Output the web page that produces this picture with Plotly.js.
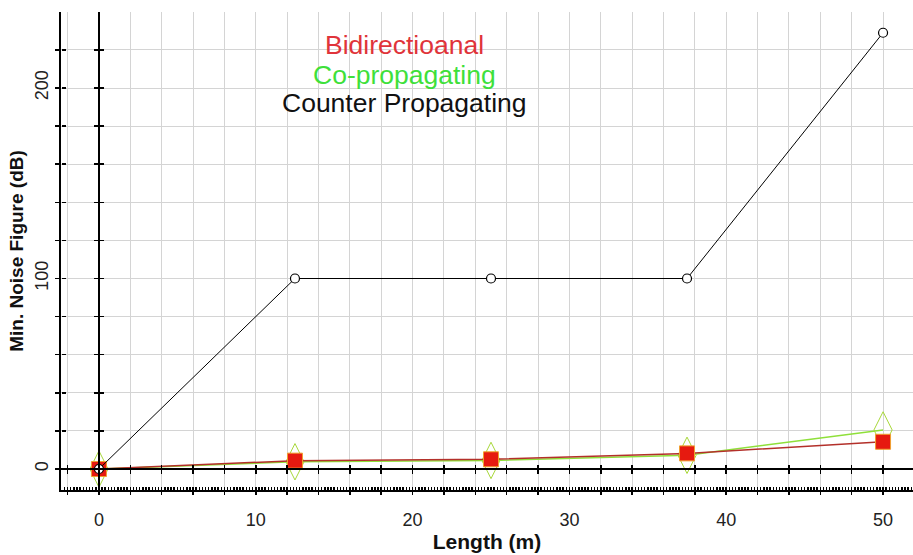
<!DOCTYPE html>
<html>
<head>
<meta charset="utf-8">
<script src="https://cdn.plot.ly/plotly-3.0.1.min.js"></script>
<style>html,body{margin:0;padding:0;background:#fff;}#chart{width:913px;height:555px;}</style>
</head>
<body>
<div id="chart"></div>
<script>
// ---- data ----
var lengths = [0, 12.5, 25, 37.5, 50];
var counterProp = [0, 100, 100, 100, 229];
var coProp = [0, 3.8, 4.5, 7.2, 20.5];
var bidir = [0, 4.4, 5.1, 8.2, 14.3];
var seriesNames = ["Bidirectioanal", "Co-propagating", "Counter Propagating"];
var xTitle = "Length (m)";
var yTitle = "Min. Noise Figure (dB)";

// ---- styling ----
var xRange = [-2.42, 51.91];
var yRange = [-11.02, 239.9];
var gridCol = "#d4d4d4";
var fontFam = "Liberation Sans, Arial, sans-serif";
var xZeroPos = (0 - yRange[0]) / (yRange[1] - yRange[0]);
var yZeroPos = (0 - xRange[0]) / (xRange[1] - xRange[0]);

var traces = [
  {x: lengths, y: coProp, mode: "lines+markers", name: seriesNames[1],
   line: {color: "#8fe03a", width: 1.5},
   marker: {symbol: "diamond-tall-open", size: 26, color: "#a8d83a", line: {width: 1}}},
  {x: lengths, y: bidir, mode: "lines+markers", name: seriesNames[0],
   line: {color: "#b3302a", width: 1.5},
   marker: {symbol: "square", size: 15, color: "#e61a10", line: {color: "#f0a030", width: 1}}},
  {x: lengths, y: counterProp, mode: "lines+markers", name: seriesNames[2],
   line: {color: "#000000", width: 1},
   marker: {symbol: "circle", size: 9, color: "#ffffff", line: {color: "#000000", width: 1.2}}},
  // helper empty traces so the overlay axes are drawn
  {x: [], y: [], xaxis: "x2", yaxis: "y", hoverinfo: "skip", showlegend: false},
  {x: [], y: [], xaxis: "x3", yaxis: "y", hoverinfo: "skip", showlegend: false},
  {x: [], y: [], xaxis: "x4", yaxis: "y", hoverinfo: "skip", showlegend: false},
  {x: [], y: [], xaxis: "x", yaxis: "y2", hoverinfo: "skip", showlegend: false},
  {x: [], y: [], xaxis: "x", yaxis: "y3", hoverinfo: "skip", showlegend: false},
  {x: [], y: [], xaxis: "x", yaxis: "y4", hoverinfo: "skip", showlegend: false}
];

function overlayX(pos, ticks, dtick, len, showline) {
  return {overlaying: "x", anchor: "free", position: pos, range: xRange, showgrid: false,
    zeroline: false, showline: showline, linecolor: "#000", linewidth: 2, ticks: ticks,
    ticklen: len, tickwidth: 1.5, tickcolor: "#000", tick0: 0, dtick: dtick, showticklabels: false};
}
function overlayY(pos, ticks, dtick, len, showline) {
  return {overlaying: "y", anchor: "free", position: pos, range: yRange, showgrid: false,
    zeroline: false, showline: showline, linecolor: "#000", linewidth: 2, ticks: ticks,
    ticklen: len, tickwidth: 1.5, tickcolor: "#000", tick0: 0, dtick: dtick, showticklabels: false};
}

var annotations = [];
var legendColors = ["#e0343a", "#3ee03a", "#111111"];
var legendY = [45, 75, 103];
for (var i = 0; i < seriesNames.length; i++) {
  annotations.push({xref: "paper", yref: "paper", x: (404 - 61) / 852, y: (490 - legendY[i]) / 478,
    xanchor: "center", yanchor: "middle", showarrow: false, text: seriesNames[i],
    font: {family: fontFam, size: 26.5, color: legendColors[i]}});
}

var layout = {
  width: 913, height: 555,
  margin: {l: 61, r: 0, t: 12, b: 65, pad: 0},
  paper_bgcolor: "#fff", plot_bgcolor: "#fff",
  showlegend: false,
  font: {family: fontFam, color: "#222"},
  xaxis: {range: xRange, dtick: 10, tick0: 0, showgrid: true, gridcolor: gridCol, gridwidth: 1,
    zeroline: false, showline: true, linecolor: "#000", linewidth: 2,
    ticks: "outside", ticklen: 3, tickcolor: "#000", tickwidth: 1.5, ticklabelstandoff: 9,
    tickfont: {size: 18, color: "#222"},
    minor: {dtick: 2, tick0: 0, showgrid: true, gridcolor: gridCol, gridwidth: 1, ticks: "outside", ticklen: 3, tickcolor: "#000"},
    title: {text: xTitle, font: {size: 21, color: "#111", weight: "bold"}, standoff: 6}},
  yaxis: {range: yRange, dtick: 100, tick0: 0, showgrid: true, gridcolor: gridCol, gridwidth: 1,
    zeroline: false, showline: true, linecolor: "#000", linewidth: 2,
    ticks: "outside", ticklen: 4, tickcolor: "#000", tickwidth: 1.5, tickangle: -90,
    tickfont: {size: 18, color: "#222"},
    minor: {dtick: 20, tick0: 0, showgrid: true, gridcolor: gridCol, gridwidth: 1, ticks: "outside", ticklen: 4, tickcolor: "#000"},
    title: {text: yTitle, font: {size: 19, color: "#111", weight: "bold"}, standoff: 3}},
  xaxis2: overlayX(xZeroPos, "outside", 2, 4, true),
  xaxis3: overlayX(xZeroPos, "inside", 2, 4, false),
  xaxis4: overlayX(0, "inside", 0.2, 3, false),
  yaxis2: overlayY(yZeroPos, "outside", 20, 4, true),
  yaxis3: overlayY(yZeroPos, "inside", 20, 4, false),
  yaxis4: overlayY(0, "inside", 20, 4, false),
  annotations: annotations
};

Plotly.newPlot("chart", traces, layout, {staticPlot: true, displayModeBar: false});
</script>
</body>
</html>
